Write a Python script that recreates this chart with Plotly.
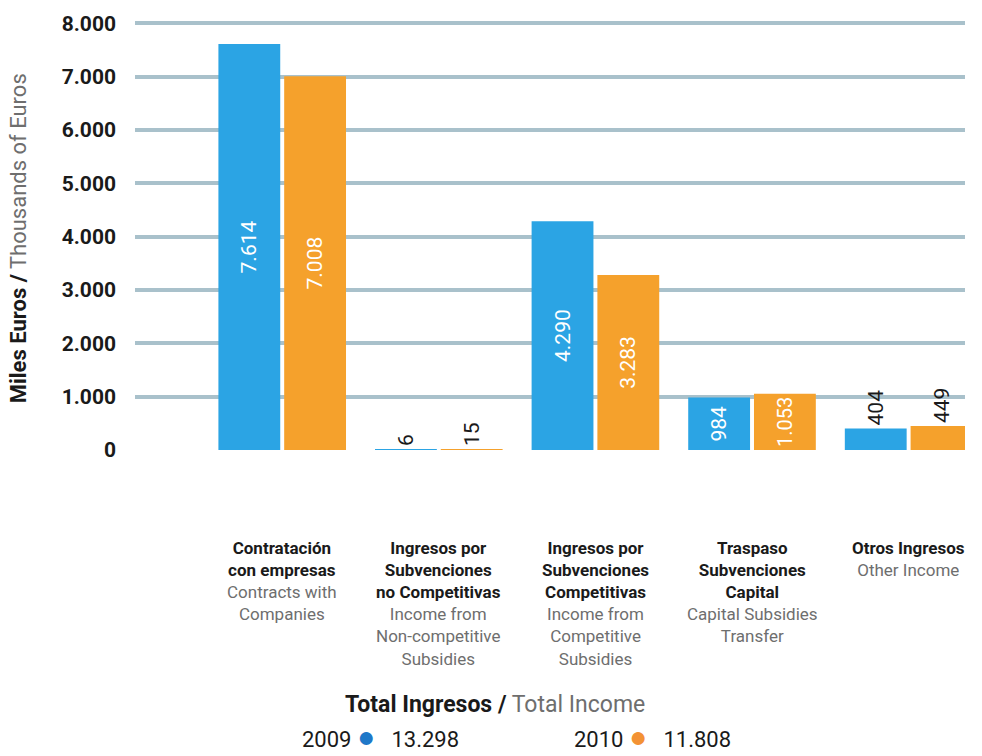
import plotly.graph_objects as go

# Income by concept, thousands of euros
categories_es = [
    "Contratación<br>con empresas",
    "Ingresos por<br>Subvenciones<br>no Competitivas",
    "Ingresos por<br>Subvenciones<br>Competitivas",
    "Traspaso<br>Subvenciones<br>Capital",
    "Otros Ingresos",
]
categories_en = [
    "Contracts with<br>Companies",
    "Income from<br>Non-competitive<br>Subsidies",
    "Income from<br>Competitive<br>Subsidies",
    "Capital Subsidies<br>Transfer",
    "Other Income",
]
values_2009 = [7614, 6, 4290, 984, 404]
values_2010 = [7008, 15, 3283, 1053, 449]
y_ticks = [0, 1000, 2000, 3000, 4000, 5000, 6000, 7000, 8000]

BLUE = "#2ba4e4"
ORANGE = "#f5a12c"
BLUE_DOT = "#1f78c8"
ORANGE_DOT = "#f39234"
BLACK = "#1a1a1a"
GREY = "#6e6e6e"
GRID = "#a9c1cb"
FONT = "Roboto"

x_pos = list(range(len(categories_es)))


def text_positions(vals):
    return ["inside" if v > 900 else "outside" for v in vals]


fig = go.Figure()
for name, vals, color in (("2009", values_2009, BLUE), ("2010", values_2010, ORANGE)):
    fig.add_trace(go.Bar(
        x=x_pos,
        y=vals,
        name=name,
        marker=dict(color=color, line=dict(width=0)),
        texttemplate="%{y:,}",
        textposition=text_positions(vals),
        textangle=-90,
        insidetextanchor="middle",
        insidetextfont=dict(color="white", size=21, family=FONT),
        outsidetextfont=dict(color=BLACK, size=21, family=FONT),
        cliponaxis=False,
        hoverinfo="skip",
    ))

annotations = []
# category labels: Spanish in black, English in grey
for i, (es, en) in enumerate(zip(categories_es, categories_en)):
    annotations.append(dict(
        x=i, xref="x", y=-0.2, yref="paper",
        xanchor="center", yanchor="top", showarrow=False,
        align="center",
        text=f"<b>{es}</b><br><span style='color:{GREY}'>{en}</span>",
        font=dict(size=17, color=BLACK, family=FONT),
    ))

# axis title
annotations.append(dict(
    x=-0.141, xref="paper", y=0.49, yref="paper",
    xanchor="center", yanchor="middle", showarrow=False, textangle=-90,
    text=f"<b>Miles Euros /</b> <span style='color:{GREY}'>Thousands of Euros</span>",
    font=dict(size=22, color=BLACK, family=FONT),
))

# totals footer
total_2009 = sum(values_2009)
total_2010 = sum(values_2010)


def fmt(n):
    return f"{n:,}".replace(",", ".")


annotations.append(dict(
    x=0.434, xref="paper", y=-0.59, yref="paper",
    xanchor="center", yanchor="middle", showarrow=False,
    text=f"<b>Total Ingresos /</b> <span style='color:{GREY}'>Total Income</span>",
    font=dict(size=23, color=BLACK, family=FONT),
))
for xp, year, total, dot in ((0.296, "2009", total_2009, BLUE_DOT),
                             (0.623, "2010", total_2010, ORANGE_DOT)):
    annotations.append(dict(
        x=xp, xref="paper", y=-0.664, yref="paper",
        xanchor="center", yanchor="middle", showarrow=False,
        text=(f"{year} <span style='color:{dot};font-size:30px'>●</span>"
              f"   {fmt(total)}"),
        font=dict(size=22, color=BLACK, family=FONT),
    ))

fig.update_layout(
    width=982, height=756,
    margin=dict(l=135, r=17, t=15, b=306),
    paper_bgcolor="white", plot_bgcolor="white",
    separators=",.",
    barmode="group", bargap=0.16, bargroupgap=0.06,
    showlegend=False,
    font=dict(family=FONT, color=BLACK),
    annotations=annotations,
    xaxis=dict(
        range=[-0.94, 4.36], showticklabels=False, showgrid=False,
        zeroline=False, showline=False, ticks="",
    ),
    yaxis=dict(
        range=[0, 8100], tickvals=y_ticks, tickformat=",",
        showgrid=True, gridcolor=GRID, gridwidth=4,
        zeroline=False, showline=False, ticks="",
        ticklabelstandoff=18,
        tickfont=dict(size=21, color=BLACK, family=FONT, weight="bold"),
    ),
)

fig.write_html("out.html")
